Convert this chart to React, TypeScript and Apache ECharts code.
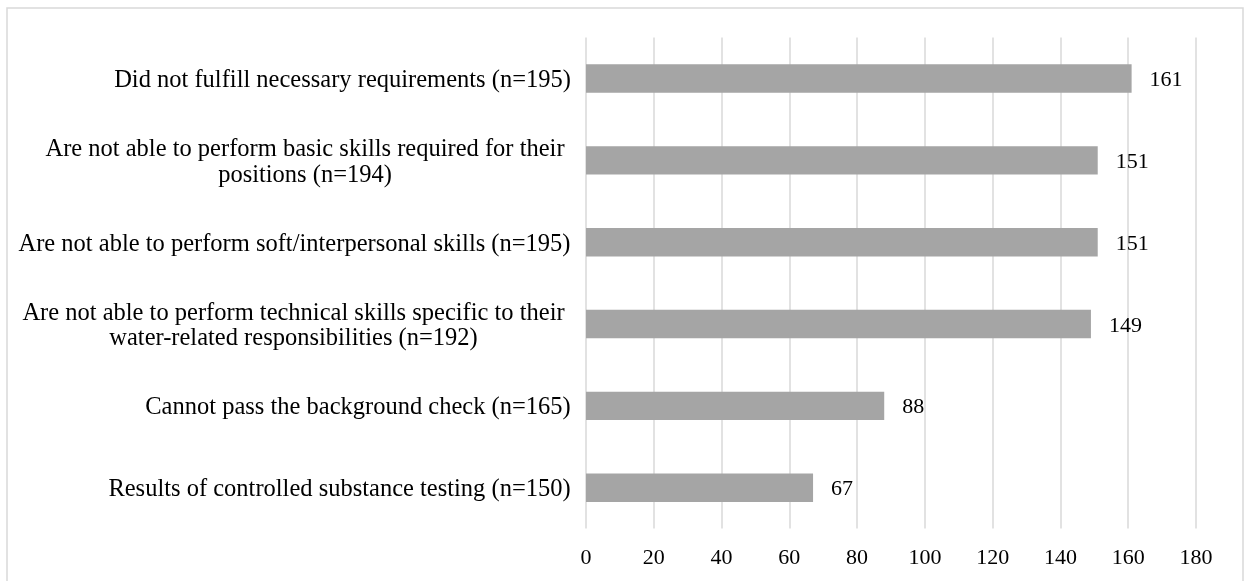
import React, { useEffect, useRef } from "react";
import * as echarts from "echarts";

const categories = [
  "Did not fulfill necessary requirements (n=195)",
  "Are not able to perform basic skills required for their\npositions (n=194)",
  "Are not able to perform soft/interpersonal skills (n=195)",
  "Are not able to perform technical skills specific to their\nwater-related responsibilities (n=192)",
  "Cannot pass the background check (n=165)",
  "Results of controlled substance testing (n=150)",
];
const values = [161, 151, 151, 149, 88, 67];
const xMin = 0;
const xMax = 180;
const xInterval = 20;

const FONT = '"Liberation Serif", "Times New Roman", serif';
const CAT_SIZE = 24.5;
const LINE_H = 25.5;

function measure(text: string, size: number): number {
  const c = document.createElement("canvas");
  const ctx = c.getContext("2d");
  if (!ctx) return text.length * size * 0.45;
  ctx.font = `${size}px "Liberation Serif"`;
  return ctx.measureText(text).width;
}

export default function App() {
  const ref = useRef<HTMLDivElement>(null);
  useEffect(() => {
    if (!ref.current) return;
    const chart = echarts.init(ref.current, undefined, { renderer: "svg" });
    const rich: Record<string, any> = {};
    categories.forEach((c, i) => {
      const lines = c.split("\n");
      const w = Math.max(...lines.map((l) => measure(l, CAT_SIZE)));
      const extra = lines.length > 1 ? 14 : 2;
      rich["l" + i] = {
        width: Math.ceil(w) + extra,
        align: "center",
        fontSize: CAT_SIZE,
        fontFamily: FONT,
        color: "#000",
        lineHeight: LINE_H,
      };
    });
    chart.setOption({
      animation: false,
      textStyle: { fontFamily: FONT },
      graphic: [
        {
          type: "rect",
          shape: { x: 7, y: 8, width: 1236, height: 600 },
          style: { fill: "none", stroke: "#d9d9d9", lineWidth: 1.5 },
          silent: true,
        },
      ],
      grid: { left: 586, right: 48, top: 37.6, bottom: 52.4 },
      xAxis: {
        type: "value",
        min: xMin,
        max: xMax,
        interval: xInterval,
        axisLine: { show: false },
        axisTick: { show: false },
        splitLine: { show: true, lineStyle: { color: "#d9d9d9", width: 1.5 } },
        axisLabel: {
          fontSize: 22,
          fontFamily: FONT,
          color: "#000",
          margin: 17,
        },
      },
      yAxis: {
        type: "category",
        inverse: true,
        data: categories,
        axisLine: { show: false },
        axisTick: { show: false },
        axisLabel: {
          margin: 14,
          align: "right",
          fontSize: CAT_SIZE,
          fontFamily: FONT,
          color: "#000",
          lineHeight: LINE_H,
          rich,
          formatter: (v: string, i: number) =>
            v
              .split("\n")
              .map((l) => `{l${i}|${l}}`)
              .join("\n"),
        },
      },
      series: [
        {
          type: "bar",
          data: values,
          barWidth: 28.4,
          itemStyle: { color: "#a5a5a5" },
          label: {
            show: true,
            position: "right",
            distance: 18,
            fontSize: 22,
            fontFamily: FONT,
            color: "#000",
          },
        },
      ],
    });
    return () => chart.dispose();
  }, []);
  return (
    <div
      ref={ref}
      style={{ position: "fixed", left: 0, top: 0, width: 1244, height: 581 }}
    />
  );
}
